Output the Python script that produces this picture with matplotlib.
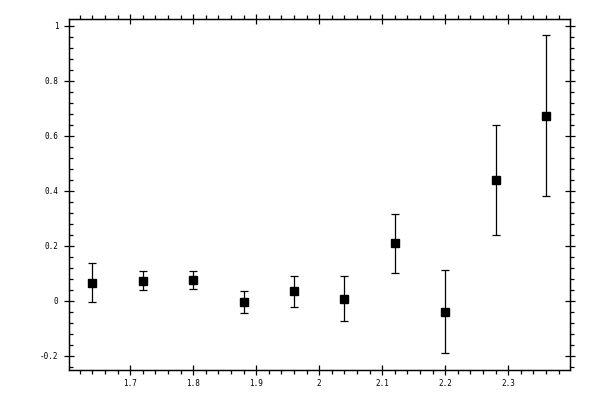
import numpy as np
import matplotlib
matplotlib.use("Agg")
import matplotlib.pyplot as plt
from matplotlib.ticker import MultipleLocator

# values
x = [1.64, 1.72, 1.80, 1.88, 1.96, 2.04, 2.12, 2.20, 2.28, 2.36]
y = [0.065, 0.073, 0.076, -0.004, 0.036, 0.007, 0.211, -0.040, 0.440, 0.673]
y_hi = [0.137, 0.108, 0.108, 0.035, 0.091, 0.090, 0.315, 0.111, 0.639, 0.967]
y_lo = [-0.004, 0.040, 0.044, -0.043, -0.022, -0.073, 0.103, -0.189, 0.240, 0.383]

y = np.array(y)
err = [y - np.array(y_lo), np.array(y_hi) - y]

fig = plt.figure(figsize=(6, 4), dpi=100)
ax = fig.add_axes([0.115, 0.075, 0.835, 0.877])

ax.errorbar(x, y, yerr=err, fmt="s", color="black", ms=6.2,
            elinewidth=0.9, capsize=3, capthick=0.9)

ax.set_xlim(1.603, 2.398)
ax.set_ylim(-0.251, 1.024)

for s in ax.spines.values():
    s.set_linewidth(0.9)

ax.xaxis.set_major_locator(MultipleLocator(0.1))
ax.xaxis.set_minor_locator(MultipleLocator(0.02))
ax.yaxis.set_major_locator(MultipleLocator(0.2))
ax.yaxis.set_minor_locator(MultipleLocator(0.04))
ax.xaxis.set_major_formatter(plt.FuncFormatter(lambda v, p: f"{v:g}"))
ax.yaxis.set_major_formatter(plt.FuncFormatter(lambda v, p: f"{round(v, 2):g}"))

ax.tick_params(axis="x", which="major", direction="inout", length=7, width=0.9,
               top=True, bottom=True, labelsize=5.5, pad=3)
ax.tick_params(axis="x", which="minor", direction="out", length=3, width=0.9,
               top=True, bottom=True)
ax.tick_params(axis="y", which="major", direction="inout", length=7, width=0.9,
               left=True, right=False, labelsize=5.5, pad=4)
ax.tick_params(axis="y", which="minor", direction="in", length=3, width=0.9,
               left=True, right=False)
for lab in ax.get_xticklabels() + ax.get_yticklabels():
    lab.set_family("DejaVu Sans Mono")

# right side ticks point outward
ax2 = ax.twinx()
ax2.set_ylim(ax.get_ylim())
ax2.yaxis.set_major_locator(MultipleLocator(0.2))
ax2.yaxis.set_minor_locator(MultipleLocator(0.04))
ax2.tick_params(axis="y", which="major", direction="inout", length=7, width=0.9,
                labelright=False)
ax2.tick_params(axis="y", which="minor", direction="out", length=3, width=0.9)
for s in ax2.spines.values():
    s.set_linewidth(0.9)

fig.savefig("out.png", dpi=100)
